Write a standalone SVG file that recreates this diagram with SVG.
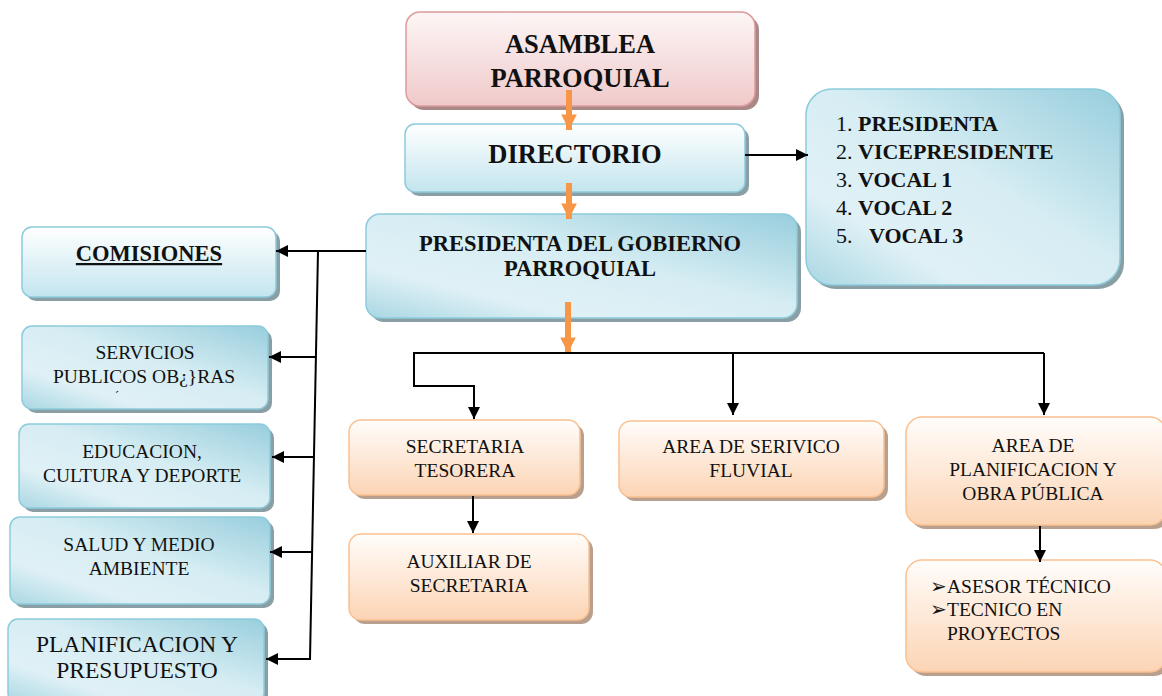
<svg xmlns="http://www.w3.org/2000/svg" width="1162" height="696" viewBox="0 0 1162 696">
<style>
.t{font-family:"Liberation Serif","Times New Roman","DejaVu Serif",serif;fill:#111;text-anchor:middle}
.f{font-family:"Liberation Serif","Times New Roman","DejaVu Serif",serif;fill:#111}
.b{font-weight:bold}
.n{font-size:19.5px}
.sh{fill:#8a9ea5}
.shp{fill:#a88}
.sho{fill:#b9a08e}
.blue{stroke:#8ccbdc;stroke-width:1.5}
.pink{stroke:#dc9a9c;stroke-width:1.5}
.org{stroke:#fac090;stroke-width:1.5}
.ln{stroke:#000;stroke-width:2;fill:none}
.oa{stroke:#f79646;stroke-width:6;fill:none}
</style>
<defs>
<linearGradient id="gp" x1="0" y1="0" x2="0" y2="1"><stop offset="0" stop-color="#fdf6f6"/><stop offset="1" stop-color="#f0c9ca"/></linearGradient>
<linearGradient id="gb" x1="0" y1="0" x2="0" y2="1"><stop offset="0" stop-color="#ffffff"/><stop offset="1" stop-color="#c3e5ee"/></linearGradient>
<linearGradient id="gd" x1="1" y1="0" x2="0" y2="1"><stop offset="0" stop-color="#98cedd"/><stop offset="0.45" stop-color="#d6edf3"/><stop offset="0.75" stop-color="#e0f1f6"/><stop offset="1" stop-color="#a9d7e3"/></linearGradient>
<linearGradient id="go" x1="0" y1="0" x2="0" y2="1"><stop offset="0" stop-color="#fffdfb"/><stop offset="1" stop-color="#fcd4b4"/></linearGradient>
<marker id="ab" viewBox="0 0 10 10" refX="10" refY="5" markerWidth="6" markerHeight="6" orient="auto"><path d="M0,0L10,5L0,10z" fill="#000"/></marker>
<marker id="ao" viewBox="0 0 10 10" refX="10" refY="5" markerWidth="2.6" markerHeight="2.6" orient="auto" markerUnits="strokeWidth"><path d="M0,0L10,5L0,10z" fill="#f79646"/></marker>
</defs>

<g id="asamblea">
<rect class="shp" x="410" y="16" width="349" height="94" rx="14"/>
<rect class="pink" fill="url(#gp)" x="406" y="12" width="349" height="94" rx="14"/>
<text class="t b" font-size="26.5" x="580" y="53">ASAMBLEA</text>
<text class="t b" font-size="26.5" x="580" y="87">PARROQUIAL</text>
</g>

<g id="directorio">
<rect class="sh" x="409" y="128" width="340" height="68" rx="10"/>
<rect class="blue" fill="url(#gb)" x="405" y="124" width="340" height="68" rx="10"/>
<text class="t b" font-size="26.5" x="575" y="163">DIRECTORIO</text>
</g>

<g id="miembros">
<rect class="sh" x="810" y="93" width="314" height="196" rx="26"/>
<rect class="blue" fill="url(#gd)" x="806" y="89" width="314" height="196" rx="26"/>
<g class="f" font-size="22">
<text x="836" y="131">1. <tspan font-weight="bold">PRESIDENTA</tspan></text>
<text x="836" y="159">2. <tspan font-weight="bold">VICEPRESIDENTE</tspan></text>
<text x="836" y="187">3. <tspan font-weight="bold">VOCAL 1</tspan></text>
<text x="836" y="215">4. <tspan font-weight="bold">VOCAL 2</tspan></text>
<text x="836" y="243" xml:space="preserve">5.   <tspan font-weight="bold">VOCAL 3</tspan></text>
</g>
</g>

<g id="presidenta">
<rect class="sh" x="370" y="218" width="431" height="104" rx="14"/>
<rect class="blue" fill="url(#gd)" x="366" y="214" width="431" height="104" rx="14"/>
<text class="t b" font-size="22.5" x="580" y="251">PRESIDENTA DEL GOBIERNO</text>
<text class="t b" font-size="22.5" x="580" y="276">PARROQUIAL</text>
</g>

<g id="comisiones">
<rect class="sh" x="26" y="231" width="254" height="70" rx="10"/>
<rect class="blue" fill="url(#gb)" x="22" y="227" width="254" height="70" rx="10"/>
<text class="t b" font-size="22.5" x="149" y="261" text-decoration="underline">COMISIONES</text>
</g>

<g id="servicios">
<rect class="sh" x="26" y="330" width="246" height="83" rx="10"/>
<rect class="blue" fill="url(#gd)" x="22" y="326" width="246" height="83" rx="10"/>
<text class="t n" x="145" y="359">SERVICIOS</text>
<text class="t n" x="144" y="383">PUBLICOS OB¿}RAS</text>
<text class="t" font-size="12" x="117" y="400">´</text>
</g>

<g id="educacion">
<rect class="sh" x="23" y="428" width="251" height="84" rx="10"/>
<rect class="blue" fill="url(#gd)" x="19" y="424" width="251" height="84" rx="10"/>
<text class="t n" x="142" y="458">EDUCACION,</text>
<text class="t n" x="142" y="482">CULTURA Y DEPORTE</text>
</g>

<g id="salud">
<rect class="sh" x="14" y="521" width="260" height="87" rx="10"/>
<rect class="blue" fill="url(#gd)" x="10" y="517" width="260" height="87" rx="10"/>
<text class="t n" x="139" y="551">SALUD Y MEDIO</text>
<text class="t n" x="139" y="575">AMBIENTE</text>
</g>

<g id="planificacion">
<rect class="sh" x="12" y="623" width="256" height="84" rx="10"/>
<rect class="blue" fill="url(#gd)" x="8" y="619" width="256" height="84" rx="10"/>
<text class="t" font-size="23.5" x="137" y="652">PLANIFICACION Y</text>
<text class="t" font-size="23.5" x="137" y="678">PRESUPUESTO</text>
</g>

<g id="secretaria">
<rect class="sho" x="353" y="424" width="231" height="75" rx="12"/>
<rect class="org" fill="url(#go)" x="349" y="420" width="231" height="75" rx="12"/>
<text class="t n" x="465" y="453">SECRETARIA</text>
<text class="t n" x="465" y="477">TESORERA</text>
</g>

<g id="auxiliar">
<rect class="sho" x="353" y="538" width="240" height="86" rx="12"/>
<rect class="org" fill="url(#go)" x="349" y="534" width="240" height="86" rx="12"/>
<text class="t n" x="469" y="568">AUXILIAR DE</text>
<text class="t n" x="469" y="592">SECRETARIA</text>
</g>

<g id="fluvial">
<rect class="sho" x="623" y="425" width="265" height="76" rx="12"/>
<rect class="org" fill="url(#go)" x="619" y="421" width="265" height="76" rx="12"/>
<text class="t n" x="751" y="453">AREA DE SERIVICO</text>
<text class="t n" x="751" y="477">FLUVIAL</text>
</g>

<g id="area-planificacion">
<rect class="sho" x="910" y="421" width="260" height="108" rx="16"/>
<rect class="org" fill="url(#go)" x="906" y="417" width="260" height="108" rx="16"/>
<text class="t n" x="1033" y="452">AREA DE</text>
<text class="t n" x="1033" y="476">PLANIFICACION Y</text>
<text class="t n" x="1033" y="500">OBRA PÚBLICA</text>
</g>

<g id="asesor">
<rect class="sho" x="910" y="564" width="260" height="112" rx="16"/>
<rect class="org" fill="url(#go)" x="906" y="560" width="260" height="112" rx="16"/>
<g class="f" font-size="19.5">
<text x="930" y="593">➢ASESOR TÉCNICO</text>
<text x="930" y="616">➢TECNICO EN</text>
<text x="947" y="640">PROYECTOS</text>
</g>
</g>

<g id="connectors">
<line class="oa" x1="569" y1="90" x2="569" y2="130" marker-end="url(#ao)"/>
<line class="oa" x1="569" y1="183" x2="569" y2="219" marker-end="url(#ao)"/>
<line class="oa" x1="568" y1="302" x2="568" y2="353" marker-end="url(#ao)"/>
<line class="ln" x1="745" y1="155" x2="808" y2="155" marker-end="url(#ab)"/>
<line class="ln" x1="366" y1="251" x2="276" y2="251" marker-end="url(#ab)"/>
<line class="ln" x1="318" y1="251" x2="310" y2="659"/>
<line class="ln" x1="316" y1="357" x2="269" y2="357" marker-end="url(#ab)"/>
<line class="ln" x1="314" y1="457" x2="272" y2="457" marker-end="url(#ab)"/>
<line class="ln" x1="312" y1="552" x2="270" y2="552" marker-end="url(#ab)"/>
<line class="ln" x1="311" y1="659" x2="266" y2="659" marker-end="url(#ab)"/>
<polyline class="ln" points="1044,353 414,353 414,386 474,386 474,419" marker-end="url(#ab)"/>
<line class="ln" x1="733" y1="353" x2="733" y2="415" marker-end="url(#ab)"/>
<line class="ln" x1="1044" y1="353" x2="1044" y2="415" marker-end="url(#ab)"/>
<line class="ln" x1="473" y1="496" x2="473" y2="533" marker-end="url(#ab)"/>
<line class="ln" x1="1040" y1="526" x2="1040" y2="562" marker-end="url(#ab)"/>
</g>
</svg>
